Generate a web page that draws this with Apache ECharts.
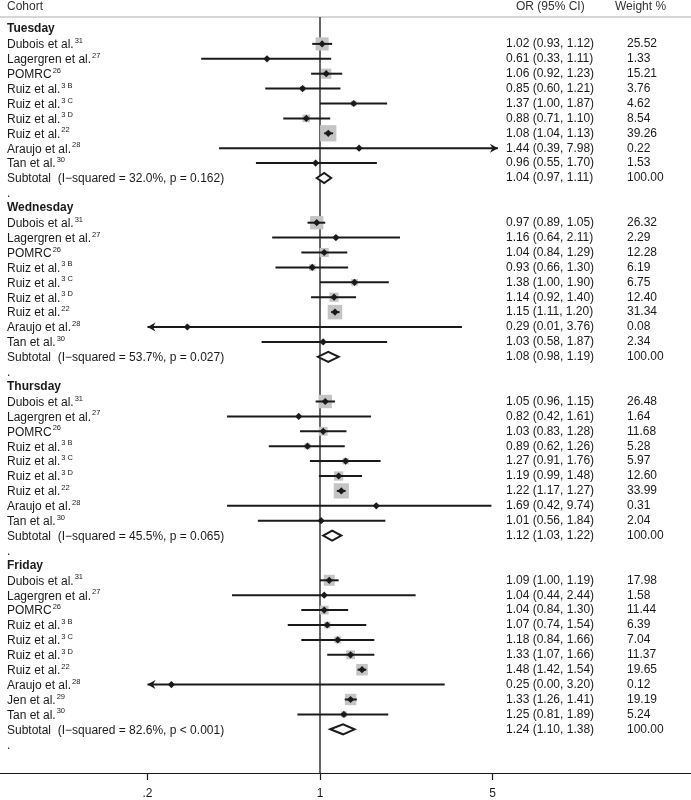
<!DOCTYPE html>
<html><head><meta charset="utf-8">
<script src="https://cdn.jsdelivr.net/npm/echarts@6/dist/echarts.min.js"></script>
<style>html,body{margin:0;padding:0;background:#fff}#c{width:691px;height:800px}</style>
</head><body><div id="c"></div>
<script>
// ---------- data ----------
const dayNames = ['Tuesday', 'Wednesday', 'Thursday', 'Friday'];

const studyNames = ['Dubois et al.', 'Lagergren et al.', 'POMRC', 'Ruiz et al.', 'Ruiz et al.', 'Ruiz et al.', 'Ruiz et al.', 'Araujo et al.', 'Tan et al.'];
const studyRefs  = ['31', '27', '26', '3 B', '3 C', '3 D', '22', '28', '30'];
const fridayNames = ['Dubois et al.', 'Lagergren et al.', 'POMRC', 'Ruiz et al.', 'Ruiz et al.', 'Ruiz et al.', 'Ruiz et al.', 'Araujo et al.', 'Jen et al.', 'Tan et al.'];
const fridayRefs  = ['31', '27', '26', '3 B', '3 C', '3 D', '22', '28', '29', '30'];

const tuesdayOR     = [1.02, 0.61, 1.06, 0.85, 1.37, 0.88, 1.08, 1.44, 0.96];
const tuesdayLower  = [0.93, 0.33, 0.92, 0.60, 1.00, 0.71, 1.04, 0.39, 0.55];
const tuesdayUpper  = [1.12, 1.11, 1.23, 1.21, 1.87, 1.10, 1.13, 7.98, 1.70];
const tuesdayWeight = [25.52, 1.33, 15.21, 3.76, 4.62, 8.54, 39.26, 0.22, 1.53];

const wednesdayOR     = [0.97, 1.16, 1.04, 0.93, 1.38, 1.14, 1.15, 0.29, 1.03];
const wednesdayLower  = [0.89, 0.64, 0.84, 0.66, 1.00, 0.92, 1.11, 0.01, 0.58];
const wednesdayUpper  = [1.05, 2.11, 1.29, 1.30, 1.90, 1.40, 1.20, 3.76, 1.87];
const wednesdayWeight = [26.32, 2.29, 12.28, 6.19, 6.75, 12.40, 31.34, 0.08, 2.34];

const thursdayOR     = [1.05, 0.82, 1.03, 0.89, 1.27, 1.19, 1.22, 1.69, 1.01];
const thursdayLower  = [0.96, 0.42, 0.83, 0.62, 0.91, 0.99, 1.17, 0.42, 0.56];
const thursdayUpper  = [1.15, 1.61, 1.28, 1.26, 1.76, 1.48, 1.27, 9.74, 1.84];
const thursdayWeight = [26.48, 1.64, 11.68, 5.28, 5.97, 12.60, 33.99, 0.31, 2.04];

const fridayOR     = [1.09, 1.04, 1.04, 1.07, 1.18, 1.33, 1.48, 0.25, 1.33, 1.25];
const fridayLower  = [1.00, 0.44, 0.84, 0.74, 0.84, 1.07, 1.42, 0.00, 1.26, 0.81];
const fridayUpper  = [1.19, 2.44, 1.30, 1.54, 1.66, 1.66, 1.54, 3.20, 1.41, 1.89];
const fridayWeight = [17.98, 1.58, 11.44, 6.39, 7.04, 11.37, 19.65, 0.12, 19.19, 5.24];

const subtotalStats  = ['I\u2212squared = 32.0%, p = 0.162', 'I\u2212squared = 53.7%, p = 0.027', 'I\u2212squared = 45.5%, p = 0.065', 'I\u2212squared = 82.6%, p < 0.001'];
const subtotalOR     = [1.04, 1.08, 1.12, 1.24];
const subtotalLower  = [0.97, 0.98, 1.03, 1.10];
const subtotalUpper  = [1.11, 1.19, 1.22, 1.38];
const subtotalWeight = [100, 100, 100, 100];

const xTickValues = [0.2, 1, 5];
const xTickLabels = ['.2', '1', '5'];

// ---------- build rows ----------
const dayData = [
  [studyNames, studyRefs, tuesdayOR, tuesdayLower, tuesdayUpper, tuesdayWeight],
  [studyNames, studyRefs, wednesdayOR, wednesdayLower, wednesdayUpper, wednesdayWeight],
  [studyNames, studyRefs, thursdayOR, thursdayLower, thursdayUpper, thursdayWeight],
  [fridayNames, fridayRefs, fridayOR, fridayLower, fridayUpper, fridayWeight]
];
// the reference draws the clipped Thursday Araujo CI without an arrow head
const noArrowKeys = ['Thursday|Araujo et al.'];
const rows = [];
dayData.forEach((d, di) => {
  rows.push({ kind: 'head', label: dayNames[di] });
  d[0].forEach((nm, i) => rows.push({ kind: 'study', label: nm, ref: d[1][i], or: d[2][i], lo: d[3][i], hi: d[4][i], w: d[5][i],
    arrow: noArrowKeys.indexOf(dayNames[di] + '|' + nm) < 0 ? 1 : 0 }));
  rows.push({ kind: 'sub', label: 'Subtotal  (' + subtotalStats[di] + ')', or: subtotalOR[di], lo: subtotalLower[di], hi: subtotalUpper[di], w: subtotalWeight[di], arrow: 1 });
  rows.push({ kind: 'dot', label: '.' });
});
rows.forEach((r, i) => r.y = i);

// ---------- layout ----------
const W = 691, H = 800;
const gridTop = 17, gridBottomPx = 773;
const firstRowPx = 29, rowStep = 14.9;
const refPx = 320, pxPerDecade = 246.8;
const xMin = Math.pow(10, -refPx / pxPerDecade);
const xMax = Math.pow(10, (W - refPx) / pxPerDecade);
const yMin = (gridTop - firstRowPx) / rowStep;
const yMax = (gridBottomPx - firstRowPx) / rowStep;
const clipMin = 0.2, clipMax = 5.26, clipMaxPlain = 4.95;
const boxScale = 2.6;
const ink = '#1a1a1a';
const FONT = '"Liberation Sans", Arial, Helvetica, sans-serif';

const markData = rows.filter(r => r.kind === 'study' || r.kind === 'sub')
  .map(r => [r.or, r.y, r.lo, r.hi, r.w, r.kind === 'study' ? 1 : 2, r.arrow]);
const textData = rows.map((r, i) => [1, r.y, i]);

function arrow(x, y, dir) {
  const L = 8, h = 4.5, n = 5.5;
  return { type: 'polygon', shape: { points: [[x, y], [x - dir * L, y - h], [x - dir * n, y], [x - dir * L, y + h]] }, style: { fill: ink } };
}

const chart = echarts.init(document.getElementById('c'), null, { renderer: 'canvas' });
chart.setOption({
  animation: false,
  backgroundColor: '#fff',
  grid: { left: 0, right: 0, top: gridTop, bottom: H - gridBottomPx, containLabel: false },
  xAxis: {
    type: 'log', logBase: 10, min: xMin, max: xMax, position: 'bottom',
    axisLine: { show: true, onZero: false, lineStyle: { color: ink, width: 1.2 } },
    axisTick: { show: true, inside: false, length: 7, lineStyle: { color: ink, width: 1.2 }, customValues: xTickValues },
    axisLabel: { show: true, margin: 15, color: ink, fontSize: 12, fontFamily: FONT, customValues: xTickValues,
      formatter: v => { const k = xTickValues.findIndex(t => Math.abs(t - v) < 1e-6); return k >= 0 ? xTickLabels[k] : ''; } },
    splitLine: { show: false }, minorTick: { show: false }
  },
  yAxis: { type: 'value', inverse: true, min: yMin, max: yMax, show: false },
  graphic: [
    { type: 'line', shape: { x1: 0, y1: gridTop, x2: W, y2: gridTop }, style: { stroke: '#c8c8c8', lineWidth: 1.5 } },
    { type: 'text', x: 7, y: 7, style: { text: 'Cohort', fill: '#333', font: '12px ' + FONT, textVerticalAlign: 'middle' } },
    { type: 'text', x: 516, y: 7, style: { text: 'OR (95% CI)', fill: '#333', font: '12px ' + FONT, textVerticalAlign: 'middle' } },
    { type: 'text', x: 615, y: 7, style: { text: 'Weight %', fill: '#333', font: '12px ' + FONT, textVerticalAlign: 'middle' } }
  ],
  series: [
    {
      type: 'custom', name: 'ref', silent: true, z: 1,
      data: [[1, 0]],
      renderItem: (params, api) => {
        const a = api.coord([1, yMin]), b = api.coord([1, yMax]);
        return { type: 'line', shape: { x1: a[0], y1: a[1], x2: b[0], y2: b[1] }, style: { stroke: '#333', lineWidth: 1.5 } };
      }
    },
    {
      type: 'custom', name: 'marks', silent: true, z: 2, clip: false,
      data: markData,
      renderItem: (params, api) => {
        const or = api.value(0), y = api.value(1), lo = api.value(2), hi = api.value(3), w = api.value(4), kind = api.value(5), withArrow = api.value(6);
        const hiClip = withArrow ? clipMax : clipMaxPlain;
        const p = api.coord([or, y]);
        const pl = api.coord([Math.max(lo, clipMin), y]);
        const ph = api.coord([Math.min(hi, hiClip), y]);
        const ch = [];
        if (kind === 1) {
          const s = boxScale * Math.sqrt(w);
          ch.push({ type: 'rect', shape: { x: p[0] - s / 2, y: p[1] - s / 2, width: s, height: s }, style: { fill: '#c4c4c4' } });
          ch.push({ type: 'line', shape: { x1: pl[0], y1: p[1], x2: ph[0], y2: p[1] }, style: { stroke: ink, lineWidth: 2 } });
          if (lo < clipMin && withArrow) ch.push(arrow(pl[0], p[1], -1));
          if (hi > clipMax && withArrow) ch.push(arrow(ph[0], p[1], 1));
          const d = 3.6;
          ch.push({ type: 'polygon', shape: { points: [[p[0] - d, p[1]], [p[0], p[1] - d], [p[0] + d, p[1]], [p[0], p[1] + d]] }, style: { fill: ink } });
        } else {
          const h = 5;
          ch.push({ type: 'polygon', shape: { points: [[pl[0], p[1]], [p[0], p[1] - h], [ph[0], p[1]], [p[0], p[1] + h]] }, style: { fill: '#fff', stroke: ink, lineWidth: 2, lineJoin: 'miter' } });
        }
        return { type: 'group', children: ch };
      }
    },
    {
      type: 'custom', name: 'text', silent: true, z: 3, clip: false,
      data: textData,
      renderItem: (params, api) => {
        const r = rows[api.value(2)];
        const yy = api.coord([1, api.value(1)])[1];
        const ch = [];
        let txt;
        if (r.kind === 'study') {
          txt = '{n|' + r.label + '}{s|' + r.ref + '}';
        } else if (r.kind === 'head') {
          txt = '{b|' + r.label + '}';
        } else {
          txt = '{n|' + r.label + '}';
        }
        ch.push({ type: 'text', x: 7, y: yy, style: {
          text: txt, verticalAlign: 'middle', fill: ink,
          rich: {
            n: { fontSize: 12, fontFamily: FONT, fill: ink, lineHeight: 14, verticalAlign: 'bottom' },
            b: { fontSize: 12, fontFamily: FONT, fontWeight: 'bold', fill: ink, lineHeight: 14 },
            s: { fontSize: 7.5, fontFamily: FONT, fill: ink, lineHeight: 14, verticalAlign: 'top', padding: [0, 0, 0, 1] }
          }
        } });
        if (r.kind === 'study' || r.kind === 'sub') {
          ch.push({ type: 'text', x: 506, y: yy, style: { text: r.or.toFixed(2) + ' (' + r.lo.toFixed(2) + ', ' + r.hi.toFixed(2) + ')', fill: ink, font: '12px ' + FONT, verticalAlign: 'middle' } });
          ch.push({ type: 'text', x: 627, y: yy, style: { text: r.w.toFixed(2), fill: ink, font: '12px ' + FONT, verticalAlign: 'middle' } });
        }
        return { type: 'group', children: ch };
      }
    }
  ]
});
</script></body></html>
